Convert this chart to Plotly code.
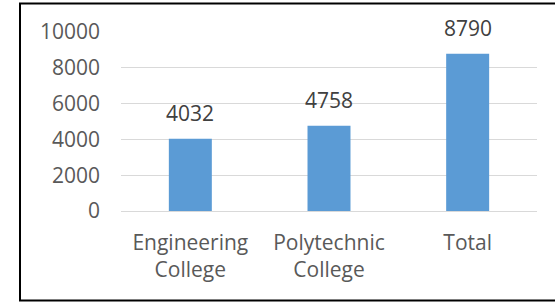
import plotly.graph_objects as go

categories = ["Engineering<br>College", "Polytechnic<br>College", "Total"]
values = [4032, 4758, 8790]
y_ticks = [0, 2000, 4000, 6000, 8000, 10000]
y_tick_text = ["0", "2000", "4000", "6000", "8000", "10000"]

FONT = "Open Sans, Liberation Sans, sans-serif"
TXT = "#595959"

fig = go.Figure()
fig.add_trace(go.Bar(
    x=categories, y=values,
    marker=dict(color="#5B9BD5", line=dict(width=0)),
    hoverinfo="skip",
))

for c, v in zip(categories, values):
    fig.add_annotation(
        x=c, y=v, text=str(v), showarrow=False,
        yanchor="bottom", yshift=10,
        font=dict(family=FONT, size=21, color="#404040"),
    )

W, H = 555, 303
L, R, T, B = 121, 537, 32, 211
pw, ph = R - L, B - T

def px_x(x):
    return (x - L) / pw

def px_y(y):
    return (B - y) / ph

fig.add_shape(
    type="rect", xref="paper", yref="paper",
    x0=px_x(20), x1=px_x(580), y0=px_y(300.5), y1=px_y(3.5),
    line=dict(color="black", width=2), fillcolor="rgba(0,0,0,0)",
    layer="above",
)

fig.update_layout(
    width=W, height=H,
    margin=dict(l=L, r=W - R, t=T, b=H - B, pad=0),
    paper_bgcolor="white", plot_bgcolor="white",
    showlegend=False,
    bargap=0.69,
    font=dict(family=FONT, size=21, color=TXT),
)
fig.update_xaxes(
    showgrid=False, showline=False, ticks="",
    tickfont=dict(family=FONT, size=21, color=TXT),
    ticklabelstandoff=17,
)
fig.update_yaxes(
    range=[0, 10000], tickvals=y_ticks, ticktext=y_tick_text,
    showgrid=True, gridcolor="#D9D9D9", gridwidth=1,
    zeroline=True, zerolinecolor="#D9D9D9", zerolinewidth=1,
    showline=False, ticks="",
    tickfont=dict(family=FONT, size=21, color=TXT),
    ticklabelstandoff=20,
)

fig.write_html(
    "out.html",
    config={"displayModeBar": False, "staticPlot": True},
    post_script="document.body.style.margin='0';document.body.style.overflow='hidden';",
)
